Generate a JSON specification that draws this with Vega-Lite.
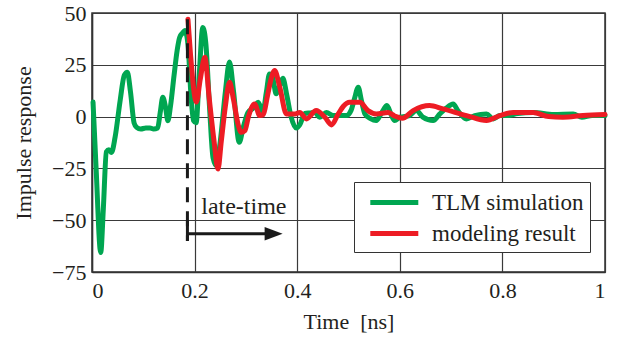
{
  "$schema": "https://vega.github.io/schema/vega-lite/v6.json",
  "width": 513,
  "height": 259,
  "autosize": "none",
  "padding": {"left": 92, "top": 13, "right": 14, "bottom": 68},
  "background": "white",
  "config": {
    "view": {"stroke": "#333333", "strokeWidth": 1.5},
    "font": "Liberation Serif",
    "axis": {
      "labelFont": "Liberation Serif",
      "titleFont": "Liberation Serif",
      "labelFontSize": 22,
      "titleFontSize": 22,
      "titleFontWeight": "normal",
      "labelColor": "#231f20",
      "titleColor": "#231f20",
      "ticks": false,
      "domainColor": "#333333",
      "domainWidth": 1.5,
      "gridColor": "#3a3a3a",
      "gridWidth": 1.2,
      "gridOpacity": 1
    },
    "legend": {
      "labelFont": "Liberation Serif"
    }
  },
  "datasets": {
    "curves": [
      {"t": 0.002, "v": 7, "series": "TLM simulation"},
      {"t": 0.008, "v": -25, "series": "TLM simulation"},
      {"t": 0.017, "v": -65.6, "series": "TLM simulation"},
      {"t": 0.022, "v": -45, "series": "TLM simulation"},
      {"t": 0.028, "v": -17, "series": "TLM simulation"},
      {"t": 0.033, "v": -16, "series": "TLM simulation"},
      {"t": 0.038, "v": -17.3, "series": "TLM simulation"},
      {"t": 0.045, "v": -10, "series": "TLM simulation"},
      {"t": 0.055, "v": 8, "series": "TLM simulation"},
      {"t": 0.063, "v": 20, "series": "TLM simulation"},
      {"t": 0.069, "v": 21.4, "series": "TLM simulation"},
      {"t": 0.075, "v": 12, "series": "TLM simulation"},
      {"t": 0.082, "v": -3, "series": "TLM simulation"},
      {"t": 0.087, "v": -5.2, "series": "TLM simulation"},
      {"t": 0.095, "v": -6, "series": "TLM simulation"},
      {"t": 0.105, "v": -5.5, "series": "TLM simulation"},
      {"t": 0.113, "v": -5.5, "series": "TLM simulation"},
      {"t": 0.12, "v": -6, "series": "TLM simulation"},
      {"t": 0.128, "v": -5.5, "series": "TLM simulation"},
      {"t": 0.133, "v": 2, "series": "TLM simulation"},
      {"t": 0.138, "v": 9.3, "series": "TLM simulation"},
      {"t": 0.143, "v": 5, "series": "TLM simulation"},
      {"t": 0.148, "v": -2, "series": "TLM simulation"},
      {"t": 0.153, "v": 5, "series": "TLM simulation"},
      {"t": 0.16, "v": 20, "series": "TLM simulation"},
      {"t": 0.166, "v": 32, "series": "TLM simulation"},
      {"t": 0.171, "v": 38.3, "series": "TLM simulation"},
      {"t": 0.177, "v": 40.5, "series": "TLM simulation"},
      {"t": 0.181, "v": 41.6, "series": "TLM simulation"},
      {"t": 0.187, "v": 35, "series": "TLM simulation"},
      {"t": 0.193, "v": 10, "series": "TLM simulation"},
      {"t": 0.198, "v": -2, "series": "TLM simulation"},
      {"t": 0.203, "v": -3, "series": "TLM simulation"},
      {"t": 0.209, "v": 20, "series": "TLM simulation"},
      {"t": 0.216, "v": 43, "series": "TLM simulation"},
      {"t": 0.222, "v": 35, "series": "TLM simulation"},
      {"t": 0.229, "v": 5, "series": "TLM simulation"},
      {"t": 0.236, "v": -20, "series": "TLM simulation"},
      {"t": 0.2425, "v": -23.7, "series": "TLM simulation"},
      {"t": 0.25, "v": -12, "series": "TLM simulation"},
      {"t": 0.26, "v": 12, "series": "TLM simulation"},
      {"t": 0.268, "v": 26.3, "series": "TLM simulation"},
      {"t": 0.276, "v": 12, "series": "TLM simulation"},
      {"t": 0.287, "v": -12.4, "series": "TLM simulation"},
      {"t": 0.295, "v": -5, "series": "TLM simulation"},
      {"t": 0.304, "v": 2, "series": "TLM simulation"},
      {"t": 0.314, "v": 4, "series": "TLM simulation"},
      {"t": 0.324, "v": 6.9, "series": "TLM simulation"},
      {"t": 0.333, "v": 2, "series": "TLM simulation"},
      {"t": 0.34, "v": 12, "series": "TLM simulation"},
      {"t": 0.346, "v": 20.6, "series": "TLM simulation"},
      {"t": 0.352, "v": 19, "series": "TLM simulation"},
      {"t": 0.359, "v": 11, "series": "TLM simulation"},
      {"t": 0.366, "v": 15, "series": "TLM simulation"},
      {"t": 0.372, "v": 18.5, "series": "TLM simulation"},
      {"t": 0.38, "v": 10, "series": "TLM simulation"},
      {"t": 0.388, "v": 0, "series": "TLM simulation"},
      {"t": 0.398, "v": -5.5, "series": "TLM simulation"},
      {"t": 0.405, "v": -4, "series": "TLM simulation"},
      {"t": 0.415, "v": 1.5, "series": "TLM simulation"},
      {"t": 0.425, "v": 1.8, "series": "TLM simulation"},
      {"t": 0.434, "v": 2.1, "series": "TLM simulation"},
      {"t": 0.444, "v": -0.3, "series": "TLM simulation"},
      {"t": 0.457, "v": 2, "series": "TLM simulation"},
      {"t": 0.47, "v": 0.5, "series": "TLM simulation"},
      {"t": 0.496, "v": 0.5, "series": "TLM simulation"},
      {"t": 0.505, "v": 3, "series": "TLM simulation"},
      {"t": 0.512, "v": 9, "series": "TLM simulation"},
      {"t": 0.519, "v": 14.2, "series": "TLM simulation"},
      {"t": 0.525, "v": 8, "series": "TLM simulation"},
      {"t": 0.532, "v": 1.3, "series": "TLM simulation"},
      {"t": 0.543, "v": -1, "series": "TLM simulation"},
      {"t": 0.554, "v": -1.9, "series": "TLM simulation"},
      {"t": 0.565, "v": 2, "series": "TLM simulation"},
      {"t": 0.575, "v": 5.3, "series": "TLM simulation"},
      {"t": 0.583, "v": 1, "series": "TLM simulation"},
      {"t": 0.59, "v": -1.9, "series": "TLM simulation"},
      {"t": 0.6, "v": -0.3, "series": "TLM simulation"},
      {"t": 0.619, "v": 0.5, "series": "TLM simulation"},
      {"t": 0.632, "v": 2.9, "series": "TLM simulation"},
      {"t": 0.645, "v": -0.3, "series": "TLM simulation"},
      {"t": 0.665, "v": -1.9, "series": "TLM simulation"},
      {"t": 0.678, "v": 1.3, "series": "TLM simulation"},
      {"t": 0.69, "v": 4, "series": "TLM simulation"},
      {"t": 0.704, "v": 6.1, "series": "TLM simulation"},
      {"t": 0.713, "v": 2.9, "series": "TLM simulation"},
      {"t": 0.73, "v": -1.1, "series": "TLM simulation"},
      {"t": 0.746, "v": 0.5, "series": "TLM simulation"},
      {"t": 0.769, "v": 1.3, "series": "TLM simulation"},
      {"t": 0.782, "v": -1.1, "series": "TLM simulation"},
      {"t": 0.795, "v": 0.5, "series": "TLM simulation"},
      {"t": 0.808, "v": 0.5, "series": "TLM simulation"},
      {"t": 0.83, "v": 1.5, "series": "TLM simulation"},
      {"t": 0.86, "v": 2, "series": "TLM simulation"},
      {"t": 0.9, "v": 1, "series": "TLM simulation"},
      {"t": 0.938, "v": 1.3, "series": "TLM simulation"},
      {"t": 0.955, "v": -0.3, "series": "TLM simulation"},
      {"t": 0.975, "v": 0.5, "series": "TLM simulation"},
      {"t": 1.0, "v": 0.5, "series": "TLM simulation"},
      {"t": 0.187, "v": 47, "series": "modeling result"},
      {"t": 0.192, "v": 30, "series": "modeling result"},
      {"t": 0.2035, "v": 7, "series": "modeling result"},
      {"t": 0.211, "v": 18, "series": "modeling result"},
      {"t": 0.22, "v": 28.7, "series": "modeling result"},
      {"t": 0.228, "v": 10, "series": "modeling result"},
      {"t": 0.238, "v": -12, "series": "modeling result"},
      {"t": 0.2456, "v": -25.3, "series": "modeling result"},
      {"t": 0.252, "v": -12, "series": "modeling result"},
      {"t": 0.26, "v": 5, "series": "modeling result"},
      {"t": 0.268, "v": 16.6, "series": "modeling result"},
      {"t": 0.276, "v": 8, "series": "modeling result"},
      {"t": 0.285, "v": -4, "series": "modeling result"},
      {"t": 0.291, "v": -7.6, "series": "modeling result"},
      {"t": 0.298, "v": -6.8, "series": "modeling result"},
      {"t": 0.305, "v": 0, "series": "modeling result"},
      {"t": 0.317, "v": 6.1, "series": "modeling result"},
      {"t": 0.327, "v": 0.5, "series": "modeling result"},
      {"t": 0.334, "v": 1, "series": "modeling result"},
      {"t": 0.342, "v": 10, "series": "modeling result"},
      {"t": 0.35, "v": 19, "series": "modeling result"},
      {"t": 0.356, "v": 22.2, "series": "modeling result"},
      {"t": 0.366, "v": 14.2, "series": "modeling result"},
      {"t": 0.379, "v": 1.3, "series": "modeling result"},
      {"t": 0.395, "v": 1.3, "series": "modeling result"},
      {"t": 0.405, "v": 2, "series": "modeling result"},
      {"t": 0.418, "v": -1.1, "series": "modeling result"},
      {"t": 0.437, "v": 2.9, "series": "modeling result"},
      {"t": 0.454, "v": -0.3, "series": "modeling result"},
      {"t": 0.467, "v": -4, "series": "modeling result"},
      {"t": 0.48, "v": 1.3, "series": "modeling result"},
      {"t": 0.49, "v": 5, "series": "modeling result"},
      {"t": 0.502, "v": 6.9, "series": "modeling result"},
      {"t": 0.522, "v": 6.9, "series": "modeling result"},
      {"t": 0.538, "v": 2.9, "series": "modeling result"},
      {"t": 0.554, "v": 1.3, "series": "modeling result"},
      {"t": 0.577, "v": 2, "series": "modeling result"},
      {"t": 0.59, "v": 0.3, "series": "modeling result"},
      {"t": 0.605, "v": -0.8, "series": "modeling result"},
      {"t": 0.626, "v": 2.9, "series": "modeling result"},
      {"t": 0.658, "v": 5.3, "series": "modeling result"},
      {"t": 0.684, "v": 3.7, "series": "modeling result"},
      {"t": 0.73, "v": 0.5, "series": "modeling result"},
      {"t": 0.769, "v": -1.9, "series": "modeling result"},
      {"t": 0.795, "v": 0.5, "series": "modeling result"},
      {"t": 0.821, "v": 2, "series": "modeling result"},
      {"t": 0.86, "v": 2, "series": "modeling result"},
      {"t": 0.89, "v": 0, "series": "modeling result"},
      {"t": 0.918, "v": -0.3, "series": "modeling result"},
      {"t": 0.957, "v": 0.5, "series": "modeling result"},
      {"t": 1.0, "v": 1, "series": "modeling result"}
    ],
    "marker": [{"t": 0.186, "v1": 47, "v2": -60}],
    "markerEnd": [{"t": 0.186, "v1": -50, "v2": -60}],
    "arrow": [{"t1": 0.186, "t2": 0.345, "v": -56.5}],
    "arrowHead": [{"t": 0.354, "v": -56.5}],
    "label": [{"t": 0.296, "v": -43.5, "text": "late-time"}]
  },
  "layer": [
    {
      "data": {"name": "curves"},
      "mark": {"type": "line", "strokeWidth": 5, "interpolate": "monotone", "strokeCap": "round", "strokeJoin": "round"},
      "encoding": {
        "x": {
          "field": "t", "type": "quantitative",
          "scale": {"domain": [0, 1], "nice": false, "zero": false},
          "axis": {"title": "Time\u00a0\u00a0[ns]", "values": [0, 0.2, 0.4, 0.6, 0.8, 1], "format": "~g", "labelPadding": 8, "titlePadding": 10, "grid": true}
        },
        "y": {
          "field": "v", "type": "quantitative",
          "scale": {"domain": [-75, 50], "nice": false, "zero": false},
          "axis": {"title": "Impulse response", "values": [-75, -50, -25, 0, 25, 50], "labelPadding": 6, "titlePadding": 16, "grid": true}
        },
        "color": {
          "field": "series", "type": "nominal",
          "scale": {"domain": ["TLM simulation", "modeling result"], "range": ["#00a651", "#ed1c24"]},
          "legend": {
            "title": null,
            "orient": "none",
            "legendX": 262,
            "legendY": 169,
            "direction": "vertical",
            "fillColor": "white",
            "strokeColor": "#333333",
            "padding": 6,
            "symbolType": "M-0.35,0H3.65",
            "symbolSize": 576,
            "symbolStrokeWidth": 5,
            "symbolFillColor": "transparent",
            "labelFontSize": 23,
            "labelColor": "#231f20",
            "labelOffset": 43,
            "rowPadding": 4
          }
        },
        "order": {"field": "t", "type": "quantitative"}
      }
    },
    {
      "data": {"name": "marker"},
      "mark": {"type": "rule", "color": "#1a1a1a", "strokeWidth": 3, "strokeDash": [15, 9]},
      "encoding": {
        "x": {"field": "t", "type": "quantitative"},
        "y": {"field": "v1", "type": "quantitative"},
        "y2": {"field": "v2"}
      }
    },
    {
      "data": {"name": "markerEnd"},
      "mark": {"type": "rule", "color": "#1a1a1a", "strokeWidth": 3},
      "encoding": {
        "x": {"field": "t", "type": "quantitative"},
        "y": {"field": "v1", "type": "quantitative"},
        "y2": {"field": "v2"}
      }
    },
    {
      "data": {"name": "arrow"},
      "mark": {"type": "rule", "color": "#1a1a1a", "strokeWidth": 3},
      "encoding": {
        "x": {"field": "t1", "type": "quantitative"},
        "x2": {"field": "t2"},
        "y": {"field": "v", "type": "quantitative"}
      }
    },
    {
      "data": {"name": "arrowHead"},
      "mark": {"type": "point", "shape": "M-1,-0.75L1,0L-1,0.75Z", "filled": true, "color": "#1a1a1a", "opacity": 1, "size": 324},
      "encoding": {
        "x": {"field": "t", "type": "quantitative"},
        "y": {"field": "v", "type": "quantitative"}
      }
    },
    {
      "data": {"name": "label"},
      "mark": {"type": "text", "font": "Liberation Serif", "fontSize": 24, "color": "#231f20", "align": "center", "baseline": "middle"},
      "encoding": {
        "x": {"field": "t", "type": "quantitative"},
        "y": {"field": "v", "type": "quantitative"},
        "text": {"field": "text"}
      }
    }
  ]
}
